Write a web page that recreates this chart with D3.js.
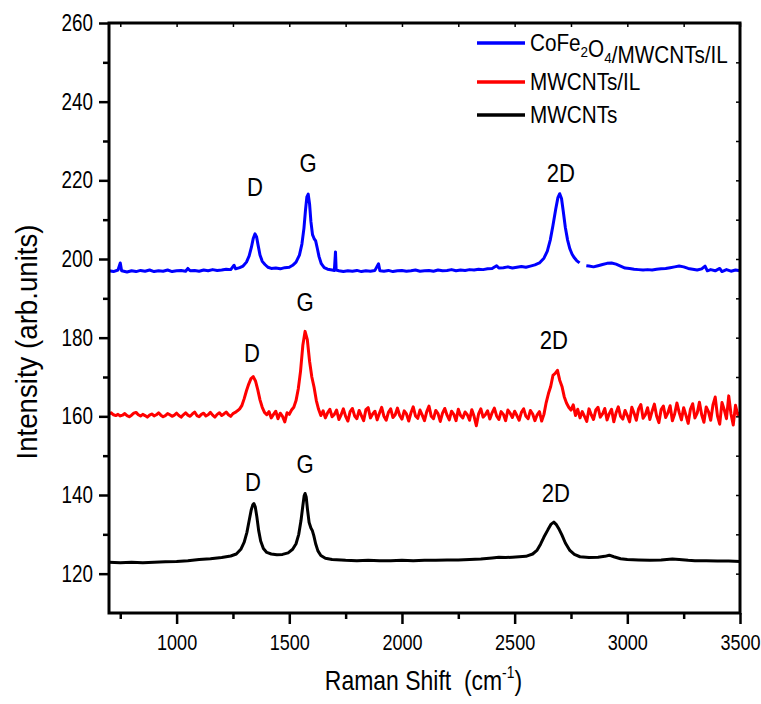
<!DOCTYPE html>
<html>
<head>
<meta charset="utf-8">
<script src="https://cdn.jsdelivr.net/npm/d3@7"></script>
<style>
  body { margin: 0; background: #fff; }
  svg { display: block; }
</style>
</head>
<body>
<svg id="chart" width="761" height="704"></svg>
<script>
// ---- Axis ranges and ticks ----
const shiftDomain = [700, 3500];
const intensityDomain = [110, 260];
const xMajorTicks = [1000, 1500, 2000, 2500, 3000, 3500];
const xMinorTicks = [750, 1250, 1750, 2250, 2750, 3250];
const yMajorTicks = [120, 140, 160, 180, 200, 220, 240, 260];
const yMinorTicks = [130, 150, 170, 190, 210, 230, 250];

// ---- Series ----
const seriesNames = ["CoFe2O4/MWCNTs/IL", "MWCNTs/IL", "MWCNTs"];
const seriesColors = ["#0000ff", "#ff0000", "#000000"];

// CoFe2O4/MWCNTs/IL spectrum: [shift, intensity]; null marks the break in the record
const cofeSpectrum = [
  [700,197.0],[720,196.8],[740,197.2],[750,199.0],[756,197.0],[780,196.7],[800,197.0],[820,196.8],
  [840,197.1],[860,196.9],[880,197.2],[900,196.8],[920,197.0],[940,196.9],[960,197.2],[980,196.8],
  [1000,197.0],[1020,197.1],[1040,196.9],[1050,197.6],[1060,197.0],[1080,197.1],[1100,196.9],[1120,197.2],
  [1140,197.0],[1160,197.3],[1180,197.1],[1200,197.2],[1220,197.4],[1240,197.3],[1255,198.4],[1262,197.5],
  [1280,197.8],[1295,198.2],[1310,199.2],[1322,200.8],[1332,203.0],[1340,205.2],[1348,206.4],[1355,205.6],
  [1362,203.4],[1370,201.0],[1380,199.4],[1392,198.6],[1405,197.9],[1420,197.6],[1440,197.7],[1460,197.5],
  [1480,197.8],[1500,197.9],[1515,198.4],[1530,199.2],[1545,201.0],[1556,203.8],[1565,207.8],[1572,212.5],
  [1578,215.8],[1584,216.5],[1590,214.0],[1596,209.5],[1603,206.2],[1610,205.2],[1617,204.6],[1624,202.8],
  [1632,200.6],[1642,198.8],[1655,197.8],[1670,197.4],[1690,197.2],[1700,197.1],[1705,201.8],[1708,197.2],
  [1720,197.0],[1740,196.8],[1760,197.0],[1780,196.9],[1800,197.1],[1820,196.8],[1840,197.0],[1860,196.9],
  [1880,197.1],[1896,198.8],[1902,197.0],[1920,196.9],[1940,197.1],[1960,196.8],[1980,197.0],[2000,197.1],
  [2020,196.9],[2040,197.0],[2060,197.2],[2080,196.9],[2100,197.0],[2120,197.1],[2140,196.9],[2160,197.2],
  [2180,197.0],[2200,197.1],[2220,197.3],[2240,197.0],[2260,197.2],[2280,197.1],[2300,197.3],[2320,197.2],
  [2340,197.4],[2360,197.3],[2380,197.5],[2400,197.6],[2420,198.3],[2430,197.7],[2450,197.8],[2470,198.0],
  [2490,197.7],[2510,197.9],[2530,198.1],[2550,197.9],[2570,198.2],[2590,198.5],[2610,199.0],[2630,200.2],
  [2645,202.0],[2658,204.8],[2670,208.5],[2682,212.6],[2692,215.6],[2700,216.6],[2708,215.4],[2716,212.0],
  [2725,208.0],[2735,204.8],[2745,202.6],[2755,201.2],[2765,200.3],[2775,199.6],[2788,199.0],[2800,null],
  [2818,198.3],[2830,198.2],[2850,198.0],[2870,198.3],[2890,198.6],[2910,198.9],[2930,199.0],[2950,198.7],
  [2970,198.2],[2990,197.7],[3010,197.6],[3030,197.4],[3050,197.3],[3070,197.2],[3090,197.3],[3110,197.2],
  [3130,197.4],[3150,197.5],[3170,197.6],[3190,197.8],[3210,198.0],[3230,198.2],[3250,198.0],[3270,197.6],
  [3290,197.4],[3310,197.2],[3330,197.5],[3345,198.2],[3355,197.0],[3370,197.3],[3390,197.0],[3410,197.6],
  [3420,196.8],[3440,197.3],[3460,196.9],[3480,197.2],[3500,197.0]
];

// MWCNTs/IL spectrum, sampled every 10 cm-1 from 700 cm-1
const ilShiftStart = 700;
const ilShiftStep = 10;
const ilIntensity = [
  160.6,160.9,160.4,160.2,160.5,160.1,160.3,160.7,160.2,159.9,
  160.3,160.8,161.0,160.4,160.1,160.5,160.2,159.8,160.3,160.6,
  160.1,160.4,160.9,160.3,159.9,160.2,160.7,160.4,160.0,160.3,
  160.8,160.2,159.8,160.4,160.9,160.3,160.0,160.6,161.1,160.2,
  159.9,160.5,160.8,160.1,160.4,161.0,160.3,159.8,160.5,160.9,
  160.2,160.6,161.1,160.4,160.0,160.7,161.0,161.4,161.9,162.8,
  164.5,166.5,168.2,169.6,170.1,169.0,166.8,164.2,162.3,161.0,
  160.4,161.2,159.6,160.5,161.3,159.4,160.8,160.0,158.6,160.9,
  160.5,161.6,162.3,164.0,167.0,171.5,178.0,181.6,179.5,174.0,
  170.0,167.4,164.0,161.8,160.2,161.4,159.6,160.9,161.8,159.9,
  160.5,161.6,159.2,160.4,161.9,160.0,158.8,161.2,162.0,160.1,
  159.4,161.5,160.2,158.9,161.7,162.2,159.6,160.6,161.3,159.1,
  160.8,162.3,160.0,159.0,161.0,161.9,159.7,160.4,162.1,160.2,
  159.3,161.4,160.6,158.8,160.9,162.4,160.1,159.5,161.6,160.3,
  158.9,161.2,162.6,160.0,159.4,161.5,160.7,158.7,160.8,162.0,
  160.3,159.1,161.3,160.5,158.9,161.8,160.2,159.6,161.1,160.4,
  159.0,161.7,160.0,157.6,160.6,161.9,159.8,160.4,161.4,159.3,
  160.9,162.1,160.1,159.2,161.2,160.5,158.9,161.6,160.8,159.7,
  161.3,160.2,159.0,161.0,161.9,160.0,159.4,161.5,160.6,158.9,
  160.4,161.2,158.8,160.5,163.5,165.8,167.6,170.4,170.9,171.7,
  169.2,167.6,165.0,163.4,162.3,161.6,162.9,160.2,161.8,159.6,
  161.2,160.0,158.7,161.9,160.4,159.2,161.6,162.3,159.8,160.6,
  162.0,159.1,160.7,161.8,158.6,160.9,162.4,160.0,159.3,161.5,
  160.2,158.6,162.3,160.8,159.0,161.9,163.0,159.5,160.4,162.2,
  159.2,161.3,163.1,160.1,158.4,161.7,162.6,159.7,160.9,162.7,
  158.9,160.6,163.4,161.0,159.1,162.2,160.3,158.2,161.8,163.2,
  159.6,160.8,163.6,160.4,158.5,162.4,161.2,159.0,162.9,164.9,
  160.1,158.0,163.5,161.7,159.4,165.2,160.6,157.8,162.8,160.4,
  160.9
];

// MWCNTs spectrum: [shift, intensity]
const mwcntSpectrum = [
  [700,122.9],[750,122.8],[800,122.9],[850,122.8],[900,122.9],[950,123.0],[1000,123.1],[1050,123.3],
  [1100,123.6],[1150,123.8],[1200,124.1],[1240,124.5],[1265,125.0],[1285,126.2],[1300,128.0],[1312,130.5],
  [1322,133.5],[1331,136.2],[1338,137.5],[1343,137.8],[1349,137.0],[1356,134.5],[1364,131.0],[1373,128.3],
  [1385,126.4],[1400,125.4],[1420,125.0],[1445,124.8],[1470,124.9],[1495,125.3],[1515,126.2],[1530,127.6],
  [1542,130.0],[1552,133.5],[1560,137.2],[1566,139.8],[1570,140.4],[1575,139.5],[1581,136.2],[1588,133.0],
  [1596,131.6],[1602,131.0],[1609,129.6],[1617,127.6],[1627,125.8],[1640,124.6],[1660,123.9],[1690,123.6],
  [1750,123.4],[1800,123.3],[1850,123.4],[1900,123.3],[1950,123.3],[2000,123.4],[2050,123.3],[2100,123.4],
  [2150,123.4],[2200,123.5],[2250,123.5],[2300,123.6],[2350,123.7],[2400,124.0],[2430,124.2],[2460,124.1],
  [2490,124.2],[2520,124.3],[2550,124.4],[2580,125.0],[2600,126.0],[2615,127.5],[2630,129.3],[2648,131.2],
  [2662,132.6],[2674,133.1],[2686,132.4],[2698,131.2],[2710,129.8],[2725,127.8],[2745,125.9],[2765,124.9],
  [2790,124.3],[2830,124.1],[2870,124.2],[2900,124.4],[2920,124.7],[2940,124.3],[2970,123.8],[3000,123.6],
  [3050,123.5],[3100,123.4],[3150,123.5],[3200,123.7],[3230,123.6],[3270,123.4],[3300,123.3],[3350,123.3],
  [3400,123.2],[3450,123.2],[3500,123.1]
];

// Band labels: [series index, text, shift, intensity at text baseline]
const bandLabels = [
  [0, "D", 1348, 215.9], [0, "G", 1583, 222.0], [0, "2D", 2705, 219.7],
  [1, "D", 1334, 173.7], [1, "G", 1570, 186.7], [1, "2D", 2674, 177.0],
  [2, "D", 1339, 141.1], [2, "G", 1570, 145.7], [2, "2D", 2683, 138.3]
];

// ---- Drawing ----
const svg = d3.select("#chart");
const plotLeft = 109, plotRight = 740, plotTop = 23, plotBottom = 613;
const x = d3.scaleLinear().domain(shiftDomain).range([plotLeft, plotRight]);
const y = d3.scaleLinear().domain(intensityDomain).range([plotBottom, plotTop]);
const fontFamily = "'Liberation Sans',Arial,Helvetica,sans-serif";
const squeeze = 0.82;   // condensed lettering

const ilSpectrum = ilIntensity.map((v, i) => [ilShiftStart + i * ilShiftStep, v]);
const spectra = [cofeSpectrum, ilSpectrum, mwcntSpectrum];

const line = d3.line()
  .defined(d => d[1] !== null)
  .x(d => x(d[0]))
  .y(d => y(d[1]));

const plot = svg.append("g");
// black first so the coloured traces sit on top
[2, 1, 0].forEach(i => {
  plot.append("path")
    .datum(spectra[i])
    .attr("fill", "none")
    .attr("stroke", seriesColors[i])
    .attr("stroke-width", 3)
    .attr("stroke-linejoin", "round")
    .attr("d", line);
});

// band labels
svg.append("g").selectAll("text")
  .data(bandLabels)
  .join("text")
  .attr("transform", d => `translate(${x(d[2])},${y(d[3])}) scale(0.85,1)`)
  .attr("text-anchor", "middle")
  .attr("font-family", fontFamily)
  .attr("font-size", 26)
  .attr("fill", "#000")
  .text(d => d[1]);

// axes
function styleAxis(g, width, fontSize) {
  g.select(".domain").remove();
  g.selectAll(".tick line").attr("stroke", "#000").attr("stroke-width", width);
  g.selectAll(".tick text").each(function () {
    const t = d3.select(this);
    const tx = +t.attr("x") || 0;
    t.attr("x", tx / squeeze)
      .attr("transform", `scale(${squeeze},1)`)
      .attr("font-family", fontFamily).attr("font-size", fontSize).attr("fill", "#000");
  });
}

svg.append("g").attr("transform", `translate(0,${plotBottom})`)
  .call(d3.axisBottom(x).tickValues(xMajorTicks).tickSize(11).tickPadding(10).tickFormat(d3.format("d")))
  .call(g => styleAxis(g, 2.5, 22));
svg.append("g").attr("transform", `translate(0,${plotBottom})`)
  .call(d3.axisBottom(x).tickValues(xMinorTicks).tickSize(6).tickFormat(""))
  .call(g => styleAxis(g, 2.5, 22));
svg.append("g").attr("transform", `translate(${plotLeft},0)`)
  .call(d3.axisLeft(y).tickValues(yMajorTicks).tickSize(10).tickPadding(6).tickFormat(d3.format("d")))
  .call(g => styleAxis(g, 2.5, 23));
svg.append("g").attr("transform", `translate(${plotLeft},0)`)
  .call(d3.axisLeft(y).tickValues(yMinorTicks).tickSize(6).tickFormat(""))
  .call(g => styleAxis(g, 2.5, 23));
// small inward ticks on the top and right edges
svg.append("g").attr("transform", `translate(0,${plotTop})`)
  .call(d3.axisTop(x).tickValues(xMajorTicks.concat(xMinorTicks)).tickSize(-4).tickFormat(""))
  .call(g => styleAxis(g, 1.5, 22));
svg.append("g").attr("transform", `translate(${plotRight},0)`)
  .call(d3.axisRight(y).tickValues(yMajorTicks.concat(yMinorTicks)).tickSize(-4).tickFormat(""))
  .call(g => styleAxis(g, 1.5, 22));

// frame
svg.append("rect")
  .attr("x", plotLeft).attr("y", plotTop)
  .attr("width", plotRight - plotLeft).attr("height", plotBottom - plotTop)
  .attr("fill", "none").attr("stroke", "#000").attr("stroke-width", 3);

// axis titles
const xTitle = svg.append("text")
  .attr("transform", `translate(${(plotLeft + plotRight) / 2 - 1},690) scale(${squeeze},1)`)
  .attr("text-anchor", "middle")
  .attr("font-family", fontFamily).attr("font-size", 28).attr("fill", "#000");
xTitle.append("tspan").text("Raman Shift\u00a0\u00a0(cm");
xTitle.append("tspan").attr("font-size", 17).attr("dy", -12).text("-1");
xTitle.append("tspan").attr("dy", 12).text(")");

svg.append("text")
  .attr("transform", `translate(37,342) rotate(-90)`)
  .attr("text-anchor", "middle")
  .attr("font-family", fontFamily).attr("font-size", 30).attr("fill", "#000")
  .attr("textLength", 235).attr("lengthAdjust", "spacingAndGlyphs")
  .text("Intensity (arb.units)");

// legend
const legendRows = [43, 82, 115];
const legend = svg.append("g");
seriesNames.forEach((name, i) => {
  legend.append("line")
    .attr("x1", 477).attr("x2", 525)
    .attr("y1", legendRows[i]).attr("y2", legendRows[i])
    .attr("stroke", seriesColors[i]).attr("stroke-width", 3.5);
  const t = legend.append("text")
    .attr("transform", `translate(530,${legendRows[i] + 8}) scale(0.9,1)`)
    .attr("font-family", fontFamily).attr("font-size", 23).attr("fill", "#000");
  // chemical formula subscripts
  name.split(/(\d)/).forEach(p => {
    if (p === "") return;
    if (/^\d$/.test(p)) {
      t.append("tspan").attr("font-size", 15).attr("dy", 6).text(p);
      t.append("tspan").attr("dy", -6).text("");
    } else {
      t.append("tspan").text(p);
    }
  });
});
</script>
</body>
</html>
